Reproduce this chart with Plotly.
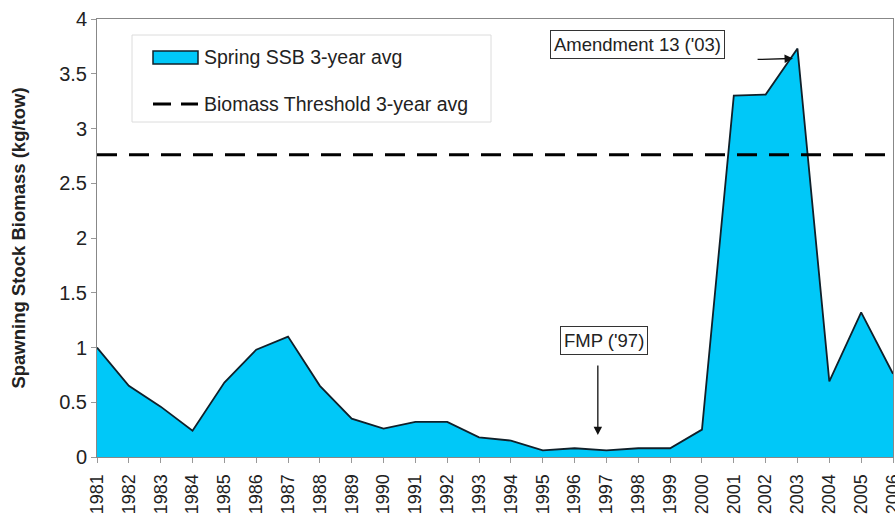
import plotly.graph_objects as go

years = list(range(1981, 2007))
ssb = [1.00, 0.65, 0.46, 0.24, 0.68, 0.98, 1.10, 0.65, 0.35, 0.26, 0.32, 0.32,
       0.18, 0.15, 0.06, 0.08, 0.06, 0.08, 0.08, 0.25, 3.30, 3.31, 3.73, 0.69,
       1.32, 0.76]
threshold_value = 2.76
tick_years = [str(y) for y in years]
y_ticks = [0, 0.5, 1, 1.5, 2, 2.5, 3, 3.5, 4]
y_tick_labels = ["0", "0.5", "1", "1.5", "2", "2.5", "3", "3.5", "4"]
series_names = ["Spring SSB 3-year avg", "Biomass Threshold 3-year avg"]

FILL = "#00C8F8"
EDGE = "#10202a"

fig = go.Figure()
fig.add_trace(go.Scatter(
    x=years, y=ssb, mode="lines", fill="tozeroy",
    fillcolor=FILL, line=dict(color=EDGE, width=1.8),
    name=series_names[0], showlegend=False))
fig.add_trace(go.Scatter(
    x=[years[0], years[-1]], y=[threshold_value, threshold_value], mode="lines",
    line=dict(color="black", width=3, dash="20px,12px"),
    name=series_names[1], showlegend=False))

font_family = "Liberation Sans, Arial, sans-serif"

# plot area in pixels: left 97, right 893, top 19, bottom 457
def px(xp):
    return (xp - 97) / 796.0

def py(yp):
    return (457 - yp) / 438.0

fig.update_layout(
    width=895, height=515,
    margin=dict(l=97, r=2, t=19, b=58, autoexpand=False),
    plot_bgcolor="white", paper_bgcolor="white",
    font=dict(family=font_family, color="#222", size=19),
    showlegend=False,
    xaxis=dict(range=[years[0], years[-1]], tickmode="array", tickvals=years,
               ticktext=tick_years, tickangle=-90, ticks="outside", ticklen=5,
               tickcolor="#999", showline=True, linecolor="#888", linewidth=1,
               mirror=True, showgrid=False, zeroline=False, automargin=False,
               ticklabeloverflow="allow", ticklabelstandoff=4,
               tickfont=dict(size=18, color="#222")),
    yaxis=dict(range=[0, 4], tickmode="array", tickvals=y_ticks,
               ticktext=y_tick_labels, ticks="outside", ticklen=5,
               tickcolor="#999", showline=True, linecolor="#888", linewidth=1,
               mirror=True, showgrid=False, zeroline=False, automargin=False,
               tickfont=dict(size=20, color="#222"),
               title=dict(text="<b>Spawning Stock Biomass (kg/tow)</b>",
                          font=dict(size=18.5, color="#222"), standoff=28)),
)

# manual legend
fig.add_shape(type="rect", xref="paper", yref="paper",
              x0=px(132), x1=px(491), y0=py(122), y1=py(35),
              line=dict(color="#dcdcdc", width=1), fillcolor="white", layer="above")
fig.add_shape(type="rect", xref="paper", yref="paper",
              x0=px(153), x1=px(198), y0=py(64), y1=py(51),
              line=dict(color=EDGE, width=1.5), fillcolor=FILL, layer="above")
fig.add_shape(type="line", xref="paper", yref="paper",
              x0=px(153), x1=px(198), y0=py(104), y1=py(104),
              line=dict(color="black", width=3, dash="18px,10px"), layer="above")
fig.add_annotation(x=px(202), y=py(57.5), xref="paper", yref="paper",
                   text=series_names[0], showarrow=False, xanchor="left",
                   yanchor="middle", font=dict(size=19.5, color="#222"))
fig.add_annotation(x=px(202), y=py(104), xref="paper", yref="paper",
                   text=series_names[1], showarrow=False, xanchor="left",
                   yanchor="middle", font=dict(size=19.5, color="#222"))

# text boxes
fig.add_annotation(x=1997.99, y=3.77, xref="x", yref="y", text="Amendment 13 ('03)",
                   showarrow=False, bordercolor="#333", borderwidth=1, borderpad=3,
                   bgcolor="white", font=dict(size=18.5, color="#222"))
fig.add_annotation(x=1996.91, y=1.06, xref="x", yref="y", text="FMP ('97)",
                   showarrow=False, bordercolor="#333", borderwidth=1, borderpad=3,
                   bgcolor="white", font=dict(size=18.5, color="#222"))
# arrows
fig.add_annotation(x=2002.86, y=3.64, ax=2001.70, ay=3.63, xref="x", yref="y",
                   axref="x", ayref="y", text="", showarrow=True, arrowhead=2,
                   arrowsize=1.3, arrowwidth=1.3, arrowcolor="#111")
fig.add_annotation(x=1996.73, y=0.20, ax=1996.73, ay=0.85, xref="x", yref="y",
                   axref="x", ayref="y", text="", showarrow=True, arrowhead=2,
                   arrowsize=1.3, arrowwidth=1.3, arrowcolor="#111")

fig.write_html("out.html", config={"displayModeBar": False},
               post_script="document.body.style.margin='0';document.body.style.overflow='hidden';")
